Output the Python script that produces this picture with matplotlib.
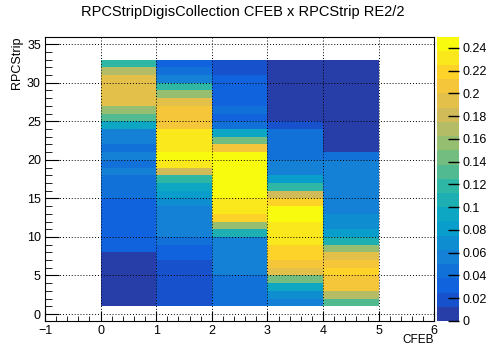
import matplotlib
matplotlib.use('Agg')
import matplotlib.pyplot as plt
import numpy as np
from matplotlib.colors import LinearSegmentedColormap, ListedColormap, BoundaryNorm
from matplotlib.ticker import MultipleLocator

plt.rcParams['font.family'] = ['Liberation Sans', 'DejaVu Sans']

# CFEB bin edges and RPC strip bin edges
cfeb_edges = [0, 1, 2, 3, 4, 5]
strip_edges = list(range(1, 34))

# occupancy per CFEB, listed from strip bin 1 (bottom) to strip bin 32 (top)
cfeb0 = [0.012] * 7 + [0.035] * 7 + [0.045] * 3 + [0.05, 0.04, 0.05, 0.045, 0.05, 0.05,
                                                  0.09, 0.13, 0.16, 0.19, 0.19, 0.19, 0.19, 0.17, 0.12]
cfeb1 = [0.015] * 6 + [0.035, 0.035, 0.045, 0.05, 0.06, 0.06, 0.06, 0.065, 0.085, 0.09,
                       0.12, 0.18, 0.225, 0.24, 0.225, 0.225, 0.225, 0.21, 0.21, 0.205,
                       0.19, 0.16, 0.12, 0.06, 0.045, 0.035]
cfeb2 = [0.04] * 4 + [0.05] * 3 + [0.06, 0.06, 0.10, 0.16, 0.22, 0.225, 0.23,
                                   0.25, 0.25, 0.25, 0.25, 0.25, 0.24, 0.20, 0.15, 0.09,
                                   0.045, 0.035, 0.04, 0.035, 0.035, 0.035, 0.035, 0.015, 0.015]
cfeb3 = [0.055, 0.065, 0.09, 0.14, 0.19, 0.20, 0.215, 0.215, 0.225, 0.235, 0.235,
         0.245, 0.245, 0.22, 0.18, 0.12, 0.08, 0.055, 0.05, 0.04, 0.04, 0.04, 0.04,
         0.02] + [0.01] * 8
cfeb4 = [0.13, 0.17, 0.20, 0.20, 0.215, 0.20, 0.19, 0.16, 0.11, 0.08, 0.065, 0.065,
         0.055, 0.055, 0.055, 0.05, 0.05, 0.05, 0.05, 0.04] + [0.01] * 12

z_max = 0.25
n_contours = 20
cbar_ticks = np.arange(0, 0.25, 0.02)

# ROOT kBird palette
stops = [0.0, 0.125, 0.25, 0.375, 0.5, 0.625, 0.75, 0.875, 1.0]
red = [0.2082, 0.0592, 0.0780, 0.0232, 0.1802, 0.5301, 0.8186, 0.9956, 0.9764]
green = [0.1664, 0.3599, 0.5041, 0.6419, 0.7178, 0.7492, 0.7328, 0.7862, 0.9832]
blue = [0.5293, 0.8684, 0.8385, 0.7914, 0.6425, 0.4662, 0.3499, 0.1968, 0.0539]
bird = LinearSegmentedColormap.from_list(
    'bird', list(zip(stops, zip(red, green, blue))), N=255)

# one colour per contour band, picked from the palette the way COLZ does it
band_pos = np.minimum((np.arange(n_contours) + 0.99) / n_contours, 1.0)
bands = ListedColormap(bird(band_pos))

z = np.array([cfeb0, cfeb1, cfeb2, cfeb3, cfeb4]).T
levels = np.linspace(0, z_max, n_contours + 1)
norm = BoundaryNorm(levels, bands.N)

fig = plt.figure(figsize=(4.86, 3.46), dpi=100)
ax = fig.add_axes([0.0926, 0.0723, 0.801, 0.8222])
cax = fig.add_axes([0.8986, 0.0723, 0.0465, 0.8222])

mesh = ax.pcolormesh(cfeb_edges, strip_edges, z, cmap=bands, norm=norm)

ax.set_xlim(-1, 6)
ax.set_ylim(-0.9, 36)
ax.xaxis.set_major_locator(MultipleLocator(1))
ax.xaxis.set_minor_locator(MultipleLocator(0.2))
ax.yaxis.set_major_locator(MultipleLocator(5))
ax.yaxis.set_minor_locator(MultipleLocator(1))
ax.tick_params(which='both', direction='in', top=False, right=False, labelsize=9, pad=3)
ax.tick_params(axis='x', which='major', length=7)
ax.tick_params(axis='x', which='minor', length=3.5)
ax.tick_params(axis='y', which='major', length=10)
ax.tick_params(axis='y', which='minor', length=5)
ax.grid(True, which='major', color='black', linestyle=(0, (1, 2)), linewidth=0.7)

ax.set_xlabel('CFEB', fontsize=8.5, ha='right', va='top')
ax.xaxis.set_label_coords(0.998, -0.047)
ax.set_ylabel('RPCStrip', fontsize=9, loc='top', labelpad=3)
fig.suptitle('RPCStripDigisCollection CFEB x RPCStrip RE2/2', fontsize=10.5, y=0.985)

cbar = fig.colorbar(mesh, cax=cax, ticks=cbar_ticks)
cbar.outline.set_visible(False)
cbar.ax.tick_params(direction='in', length=8, width=1, color='black', labelsize=9, pad=2)
cbar.ax.set_yticklabels(['0'] + ['%g' % t for t in cbar_ticks[1:]])
cbar.ax.minorticks_off()

fig.savefig('out.png', dpi=100)
